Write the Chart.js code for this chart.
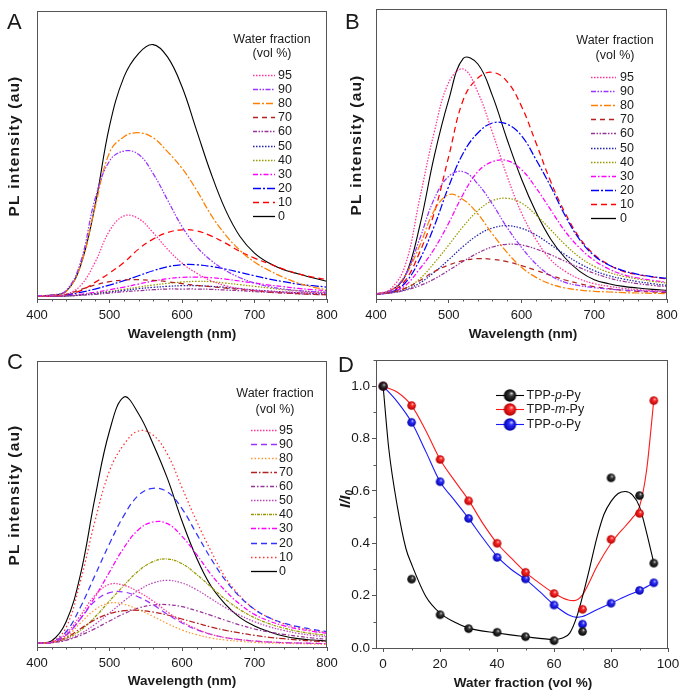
<!DOCTYPE html>
<html><head><meta charset="utf-8">
<script src="https://cdn.jsdelivr.net/npm/chart.js@4.4.1/dist/chart.umd.min.js"></script>
<style>
html,body{margin:0;padding:0;background:#fff;}
#wrap{position:relative;width:687px;height:697px;overflow:hidden;background:#fff;}
canvas{position:absolute;}
</style></head><body>
<div id="wrap">
<canvas id="cA" width="343" height="348" style="left:0;top:0"></canvas>
<canvas id="cB" width="344" height="348" style="left:343px;top:0"></canvas>
<canvas id="cC" width="343" height="349" style="left:0;top:348px"></canvas>
<canvas id="cD" width="357" height="349" style="left:330px;top:348px"></canvas>
</div>
<script>
// ---------- DATA ----------
const wavelengths = [400,420,440,460,480,500,520,540,560,580,600,620,640,660,680,700,720,740,760,780,800];
const fractions = ['95','90','80','70','60','50','40','30','20','10','0'];
const spectraTicks = [400,500,600,700,800];

// Panel A (PL intensity, a.u.)
const A95 = [9,9,14,40,110,205,250,242,200,150,108,78,55,40,31,26,23,21,20,19,18];
const A90 = [10,12,25,110,300,415,445,435,378,298,218,158,116,86,64,48,37,30,25,22,20];
const A80 = [10,12,22,100,275,440,488,500,485,443,393,328,253,193,146,111,86,65,48,36,28];
const A70 = [8,9,14,28,42,52,57,58,56,52,46,41,37,33,29,25,21,18,16,14,13];
const A60 = [8,8,9,11,14,18,22,25,28,30,30,30,29,27,25,22,20,18,16,14,13];
const A50 = [8,8,9,12,16,21,26,31,35,38,40,40,38,35,31,27,24,21,19,17,15];
const A40 = [8,8,9,12,17,23,29,36,42,47,51,53,52,48,43,38,33,28,25,22,20];
const A30 = [8,8,10,14,20,28,36,45,54,61,65,66,64,60,54,48,42,37,32,28,25];
const A20 = [8,9,12,20,30,42,55,70,85,97,103,103,98,90,80,70,60,52,45,40,36];
const A10 = [8,9,12,25,50,78,110,150,180,200,208,205,190,168,143,123,106,90,76,66,58];
const A0  = [10,12,22,100,280,520,668,738,765,728,638,508,378,268,188,138,108,88,76,64,53];

// Panel B
const B95 = [15,30,100,300,500,650,690,620,500,370,258,178,118,83,60,46,38,32,28,25,23];
const B90 = [15,25,70,180,300,368,382,345,285,215,155,105,70,50,40,34,30,27,25,23,22];
const B80 = [15,25,70,160,265,313,298,255,195,140,95,65,45,33,27,23,21,19,18,17,16];
const B70 = [15,20,32,55,82,102,115,121,119,112,100,86,71,57,46,37,31,26,23,21,19];
const B60 = [15,18,26,40,60,86,113,138,156,164,162,150,133,113,94,77,63,53,46,41,37];
const B50 = [15,18,28,48,80,118,158,192,213,220,212,192,163,133,106,85,70,60,52,46,41];
const B40 = [15,20,32,60,108,162,218,265,295,302,288,252,208,163,125,98,80,68,60,53,48];
const B30 = [15,20,40,90,150,228,315,382,412,415,388,333,268,203,153,116,90,73,63,56,50];
const B20 = [15,20,48,118,218,338,438,498,528,525,490,418,338,250,178,130,102,85,74,67,62];
const B10 = [15,22,55,140,258,428,598,663,680,653,578,468,353,258,183,133,103,83,73,66,60];
const B0  = [15,25,68,218,428,598,722,705,610,480,360,260,180,123,83,58,46,38,33,29,26];

// Panel C
const C95 = [12,15,40,95,155,188,185,165,138,105,76,54,38,28,22,18,15,13,12,11,10];
const C90 = [12,14,35,85,138,163,165,150,127,98,72,52,38,28,22,18,15,13,12,11,10];
const C80 = [12,14,30,72,112,132,128,112,92,70,51,37,27,21,17,14,12,11,10,9,8];
const C70 = [12,14,28,55,82,100,109,110,105,96,84,72,60,50,42,35,29,25,21,18,16];
const C60 = [12,13,20,35,55,78,100,117,126,127,121,109,95,80,66,54,45,38,32,27,23];
const C50 = [12,13,22,40,68,102,138,170,192,200,192,172,145,118,95,76,61,50,41,35,30];
const C40 = [12,13,25,50,90,138,185,228,256,264,250,218,180,143,112,88,70,57,47,40,35];
const C30 = [12,14,35,85,150,225,298,352,375,370,332,278,218,168,128,98,78,64,54,47,41];
const C20 = [12,15,45,120,215,310,395,455,476,465,415,340,265,200,150,113,88,72,61,53,46];
const C10 = [12,15,58,198,378,528,608,648,636,578,478,378,288,208,153,113,88,70,58,50,43];
const C0  = [12,18,75,218,448,648,750,700,610,505,378,268,183,128,88,63,46,33,25,21,18];

// Panel D (I/I0 vs water fraction)
const waterFraction = [0,10,20,30,40,50,60,70,80,90,95];
const paraPy  = [1.0,0.263,0.127,0.074,0.060,0.043,0.028,0.063,0.650,0.582,0.324];
const metaPy  = [1.0,0.926,0.720,0.562,0.400,0.289,0.208,0.148,0.415,0.514,0.945];
const orthoPy = [1.0,0.862,0.635,0.495,0.346,0.264,0.164,0.091,0.171,0.220,0.249];
const fitParaX  = [0,2,5,8,10,15,20,25,30,40,50,60,63,65.5,68,70,72.5,75,77.5,80,82.5,85,87.5,90,92.5,95];
const fitParaY  = [1.0,0.76,0.54,0.38,0.32,0.197,0.133,0.099,0.076,0.057,0.043,0.033,0.038,0.057,0.12,0.197,0.305,0.42,0.51,0.56,0.59,0.598,0.585,0.54,0.44,0.325];
const fitMetaX  = [0,5,10,15,20,25,30,35,40,45,50,55,60,65,67,70,72.5,75,80,82.5,85,87.5,90,92.5,95];
const fitMetaY  = [1.0,0.977,0.926,0.83,0.72,0.64,0.565,0.476,0.40,0.343,0.289,0.247,0.209,0.183,0.181,0.203,0.254,0.31,0.40,0.435,0.465,0.497,0.54,0.68,0.945];
const fitOrthoX = [0,5,10,15,20,25,30,35,40,45,50,55,60,65,68,70,75,80,85,90,95];
const fitOrthoY = [1.0,0.94,0.862,0.75,0.635,0.565,0.495,0.42,0.35,0.30,0.262,0.215,0.165,0.127,0.117,0.12,0.146,0.171,0.197,0.22,0.249];
const dTicksX = [0,20,40,60,80,100];
const dTicksY = [0,0.2,0.4,0.6,0.8,1.0];
const seriesNames = ['TPP-p-Py','TPP-m-Py','TPP-o-Py'];

// ---------- STYLE ----------
const FONT = "'Liberation Sans', Arial, Helvetica, sans-serif";
const AXIS = '#555';
const TXT = '#1a1a1a';
const stylesAB = [
  {c:'#ff3399', d:[1.5,1.5]},
  {c:'#9933ff', d:[5,1.5,1.5,1.5,1.5,1.5]},
  {c:'#ff8000', d:[7,2,2,2]},
  {c:'#b22222', d:[5,4]},
  {c:'#993399', d:[4,1.5,1.5,1.5,1.5,1.5]},
  {c:'#2323b0', d:[1.5,1.5]},
  {c:'#999900', d:[1.5,1.5]},
  {c:'#ff00ff', d:[5,2,1.5,2]},
  {c:'#0000ff', d:[8,2,2,2]},
  {c:'#ff0000', d:[6,4]},
  {c:'#000000', d:[]}
];
const stylesC = [
  {c:'#ff3399', d:[1.5,1.5]},
  {c:'#9933ff', d:[6,4]},
  {c:'#ff9933', d:[1.5,2]},
  {c:'#b22222', d:[6,2,1.5,2]},
  {c:'#993399', d:[4,2,1.5,2]},
  {c:'#bb44bb', d:[1.5,1.5]},
  {c:'#999900', d:[3,1,1,1]},
  {c:'#ff00ff', d:[5,2,1.5,2]},
  {c:'#3333ff', d:[6,4]},
  {c:'#ff3333', d:[1.5,2.5]},
  {c:'#000000', d:[]}
];

function drawRotText(ctx, text, x, y, font, spacing) {
  ctx.save();
  ctx.translate(x, y); ctx.rotate(-Math.PI/2);
  ctx.font = font; ctx.fillStyle = TXT; ctx.textAlign = 'center'; ctx.textBaseline = 'middle';
  if (spacing) ctx.letterSpacing = spacing + 'px';
  ctx.fillText(text, 0, 0);
  ctx.restore();
}

function decorPlugin(cfg) {
  return {
    id: 'decor',
    afterDatasetsDraw(chart) {
      const ctx = chart.ctx, a = chart.chartArea;
      ctx.save();
      ctx.strokeStyle = AXIS; ctx.lineWidth = 1; ctx.setLineDash([]);
      ctx.strokeRect(Math.round(a.left)+0.5, Math.round(a.top)+0.5, Math.round(a.right-a.left)-1, Math.round(a.bottom-a.top));
      const xs = chart.scales.x;
      ctx.beginPath();
      cfg.minorX.forEach(v => {
        const px = Math.round(xs.getPixelForValue(v)) + 0.5;
        ctx.moveTo(px, a.bottom); ctx.lineTo(px, a.bottom + 2.5);
      });
      if (cfg.minorY) {
        const ys = chart.scales.y;
        cfg.minorY.forEach(v => {
          const py = Math.round(ys.getPixelForValue(v)) + 0.5;
          ctx.moveTo(a.left, py); ctx.lineTo(a.left - 2.5, py);
        });
      }
      ctx.stroke();
      ctx.font = '22px ' + FONT; ctx.fillStyle = TXT; ctx.textAlign = 'left'; ctx.textBaseline = 'alphabetic';
      ctx.fillText(cfg.letter, cfg.letterX, cfg.letterY);
      ctx.font = 'bold 13.5px ' + FONT; ctx.textAlign = 'center'; ctx.textBaseline = 'middle';
      ctx.fillText(cfg.xTitle, cfg.xTitleX, cfg.xTitleY);
      ctx.restore();
      if (cfg.yTitle) drawRotText(ctx, cfg.yTitle, cfg.yTitleX, cfg.yTitleY, 'bold 15.5px ' + FONT, 1.2);
      if (cfg.legend) cfg.legend(chart);
    }
  };
}

function spectraLegend(L) {
  return function(chart) {
    const ctx = chart.ctx;
    ctx.save();
    ctx.font = '12.5px ' + FONT; ctx.fillStyle = TXT; ctx.textAlign = 'center'; ctx.textBaseline = 'middle';
    ctx.fillText('Water fraction', L.tx, L.ty1);
    ctx.fillText('(vol %)', L.tx, L.ty2);
    ctx.textAlign = 'left';
    chart.data.datasets.forEach((ds, i) => {
      const y = Math.round(L.y0 + i * L.dy) + 0.5;
      ctx.strokeStyle = ds.borderColor; ctx.lineWidth = 1.3; ctx.setLineDash(ds.borderDash || []);
      ctx.beginPath(); ctx.moveTo(L.x1, y); ctx.lineTo(L.x2, y); ctx.stroke();
      ctx.setLineDash([]);
      ctx.fillText(ds.label, L.xt, y + 0.5);
    });
    ctx.restore();
  };
}

function minorList(from, to, step, skip) {
  const out = [];
  for (let v = from; v <= to + 1e-9; v += step) {
    const r = Math.round(v * 1000) / 1000;
    if (Math.abs((r / skip) - Math.round(r / skip)) > 1e-6) out.push(r);
  }
  return out;
}

function spectrumChart(id, series, styles, ymax, pad, xh, decor) {
  const datasets = series.map((arr, i) => ({
    label: fractions[i],
    data: wavelengths.map((w, k) => ({x: w, y: arr[k]})),
    borderColor: styles[i].c,
    borderDash: styles[i].d,
    borderWidth: styles[i].d.length ? 1.25 : 1.1,
    pointRadius: 0,
    fill: false,
    tension: 0.4
  }));
  return new Chart(document.getElementById(id), {
    type: 'line',
    data: {datasets},
    options: {
      responsive: false, animation: false, devicePixelRatio: 1,
      layout: {padding: pad},
      plugins: {legend: {display: false}, tooltip: {enabled: false}},
      scales: {
        x: {
          type: 'linear', min: 400, max: 800,
          afterBuildTicks: s => { s.ticks = spectraTicks.map(v => ({value: v})); },
          afterFit: s => { s.height = xh; },
          grid: {drawOnChartArea: false, drawTicks: true, tickLength: 4, color: AXIS},
          border: {display: false},
          ticks: {color: TXT, font: {family: FONT, size: 13}, padding: 5, maxRotation: 0, autoSkip: false}
        },
        y: {type: 'linear', min: 0, max: ymax, display: false}
      }
    },
    plugins: [decorPlugin(decor)]
  });
}

const minorSpec = minorList(400, 800, 20, 100);

spectrumChart('cA', [A95,A90,A80,A70,A60,A50,A40,A30,A20,A10,A0], stylesAB, 866,
  {left:37, right:16, top:11, bottom:0}, 49,
  {letter:'A', letterX:7, letterY:28.5, xTitle:'Wavelength (nm)', xTitleX:182, xTitleY:334,
   yTitle:'PL intensity (au)', yTitleX:15, yTitleY:146, minorX: minorSpec,
   legend: spectraLegend({tx:272, ty1:39.5, ty2:53.5, y0:75, dy:14.1, x1:253, x2:275, xt:278})});

spectrumChart('cB', [B95,B90,B80,B70,B60,B50,B40,B30,B20,B10,B0], stylesAB, 870,
  {left:33, right:20, top:9, bottom:0}, 49,
  {letter:'B', letterX:2, letterY:28.5, xTitle:'Wavelength (nm)', xTitleX:180, xTitleY:334,
   yTitle:'PL intensity (au)', yTitleX:14, yTitleY:145, minorX: minorSpec,
   legend: spectraLegend({tx:272, ty1:40.5, ty2:56, y0:76.7, dy:14.16, x1:248, x2:273, xt:277})});

spectrumChart('cC', [C95,C90,C80,C70,C60,C50,C40,C30,C20,C10,C0], stylesC, 858,
  {left:37, right:16, top:13, bottom:0}, 50,
  {letter:'C', letterX:7, letterY:20.5, xTitle:'Wavelength (nm)', xTitleX:182, xTitleY:333,
   yTitle:'PL intensity (au)', yTitleX:15, yTitleY:147, minorX: minorSpec,
   legend: spectraLegend({tx:275, ty1:45.7, ty2:61.7, y0:81.7, dy:14.1, x1:251, x2:277, xt:279})});

// ---------- Panel D ----------
function makeBall(r, hi, mid, dark) {
  const c = document.createElement('canvas');
  const s = Math.ceil(2 * r + 2);
  c.width = s; c.height = s;
  const g = c.getContext('2d');
  const cx = s / 2, cy = s / 2;
  const grad = g.createRadialGradient(cx + 0.3 * r, cy - 0.38 * r, 0, cx, cy, r);
  grad.addColorStop(0, hi);
  grad.addColorStop(0.35, mid);
  grad.addColorStop(1, dark);
  g.fillStyle = grad;
  g.beginPath(); g.arc(cx, cy, r, 0, Math.PI * 2); g.fill();
  return c;
}
const ballDefs = [
  ['#f0f0f0', '#3a3a3a', '#000000'],
  ['#ffe0e0', '#ff2a2a', '#b00000'],
  ['#e0e0ff', '#3030ff', '#0000a8']
];
const smallBalls = ballDefs.map(b => makeBall(4.3, ...b));
const bigBalls = ballDefs.map(b => makeBall(6.2, ...b));
const lineColors = ['#000000', '#ff1a1a', '#1a1aff'];

const pointSeries = [paraPy, metaPy, orthoPy];
const fitSeries = [[fitParaX, fitParaY], [fitMetaX, fitMetaY], [fitOrthoX, fitOrthoY]];
const dDatasets = [];
pointSeries.forEach((arr, i) => dDatasets.push({
  label: seriesNames[i],
  data: waterFraction.map((x, k) => ({x, y: arr[k]})),
  showLine: false, pointStyle: smallBalls[i], pointRadius: 4.5, borderColor: lineColors[i]
}));
fitSeries.forEach((f, i) => dDatasets.push({
  label: seriesNames[i] + ' fit',
  data: f[0].map((x, k) => ({x, y: f[1][k]})),
  showLine: true,
  borderColor: lineColors[i], borderWidth: 1.1, pointRadius: 0, fill: false,
  cubicInterpolationMode: 'monotone'
}));

const OX = 13; // canvas D offset from panel edge (343 - 330)
function dExtras(chart) {
  const ctx = chart.ctx;
  ctx.save();
  ctx.translate(16, 151); ctx.rotate(-Math.PI / 2);
  ctx.fillStyle = TXT; ctx.textBaseline = 'middle'; ctx.textAlign = 'left';
  ctx.font = 'italic bold 15px ' + FONT;
  const main = 'I/I';
  const w = ctx.measureText(main).width;
  ctx.font = 'italic bold 10px ' + FONT;
  const w0 = ctx.measureText('0').width;
  const start = -(w + w0) / 2;
  ctx.font = 'italic bold 15px ' + FONT;
  ctx.fillText(main, start, 0);
  ctx.font = 'italic bold 10px ' + FONT;
  ctx.fillText('0', start + w, 4);
  ctx.restore();
  ctx.save();
  const rows = [47, 61, 75.5];
  const parts = [['TPP-', 'p', '-Py'], ['TPP-', 'm', '-Py'], ['TPP-', 'o', '-Py']];
  rows.forEach((y, i) => {
    const yy = Math.round(y) + 0.5;
    ctx.strokeStyle = lineColors[i]; ctx.lineWidth = 1.1;
    ctx.beginPath(); ctx.moveTo(OX + 153, yy); ctx.lineTo(OX + 181, yy); ctx.stroke();
    const b = bigBalls[i];
    ctx.drawImage(b, OX + 167 - b.width / 2, yy - b.height / 2);
    ctx.fillStyle = TXT; ctx.textBaseline = 'middle'; ctx.textAlign = 'left';
    let x = OX + 183.5;
    parts[i].forEach((p, k) => {
      ctx.font = (k === 1 ? 'italic ' : '') + '12.5px ' + FONT;
      ctx.fillText(p, x, yy);
      x += ctx.measureText(p).width;
    });
  });
  ctx.restore();
}

new Chart(document.getElementById('cD'), {
  type: 'scatter',
  data: {datasets: dDatasets},
  options: {
    responsive: false, animation: false, devicePixelRatio: 1,
    layout: {padding: {left: 0, right: 19, top: 12, bottom: 0}},
    plugins: {legend: {display: false}, tooltip: {enabled: false}},
    scales: {
      x: {
        type: 'linear', min: -2.5, max: 100,
        afterBuildTicks: s => { s.ticks = dTicksX.map(v => ({value: v})); },
        afterFit: s => { s.height = 49; },
        grid: {drawOnChartArea: false, drawTicks: true, tickLength: 4, color: AXIS},
        border: {display: false},
        ticks: {color: TXT, font: {family: FONT, size: 13.5}, padding: 4, maxRotation: 0, autoSkip: false}
      },
      y: {
        type: 'linear', min: 0, max: 1.1,
        afterBuildTicks: s => { s.ticks = dTicksY.map(v => ({value: v})); },
        afterFit: s => { s.width = 46; },
        grid: {drawOnChartArea: false, drawTicks: true, tickLength: 4, color: AXIS},
        border: {display: false},
        ticks: {color: TXT, font: {family: FONT, size: 13.5}, padding: 2, autoSkip: false,
                callback: v => Number(v).toFixed(1)}
      }
    }
  },
  plugins: [decorPlugin({letter: 'D', letterX: 8, letterY: 24, xTitle: 'Water fraction (vol %)',
    xTitleX: 193, xTitleY: 335, minorX: minorList(0, 100, 10, 20), minorY: minorList(0, 1.1, 0.1, 0.2),
    legend: dExtras})]
});
</script>
</body></html>
